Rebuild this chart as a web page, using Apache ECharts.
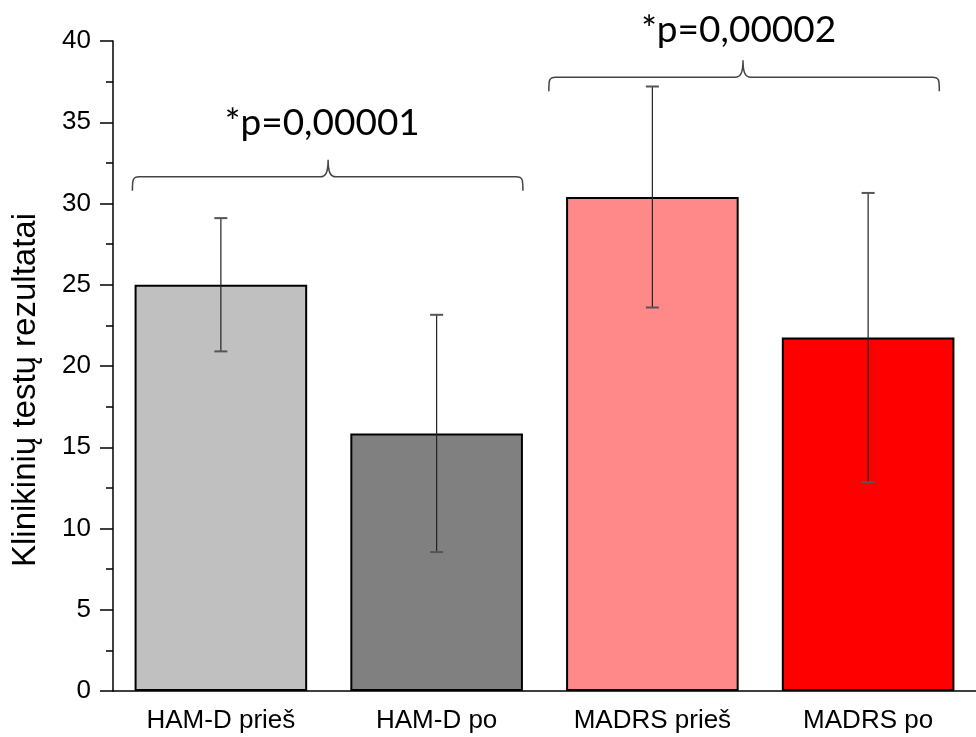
<!DOCTYPE html>
<html>
<head>
<meta charset="utf-8">
<script src="https://cdn.jsdelivr.net/npm/echarts@6/dist/echarts.min.js"></script>
<style>
  html, body { margin: 0; padding: 0; background: #fff; }
  #chart { width: 976px; height: 737px; }
</style>
</head>
<body>
<div id="chart"></div>
<script>
// Clinical test scores before and after treatment (mean ± SD)
const categories = ['HAM-D prieš', 'HAM-D po', 'MADRS prieš', 'MADRS po'];
const means = [25.0, 15.85, 30.4, 21.75];
const sds = [4.1, 7.3, 6.8, 8.9];
const barColors = ['#C0C0C0', '#808080', '#FF8888', '#FF0000'];
const yTicks = [0, 5, 10, 15, 20, 25, 30, 35, 40];

// Significance brackets (x in category units, y in score units)
const pLabels = ['*p=0,00001', '*p=0,00002'];
const braceFrom = [-0.41, 1.52];
const braceTo = [1.40, 3.33];
const braceTip = [0.497, 2.42];
const braceLevel = [31.64, 37.77];
const pLabelX = [0.47, 2.40];
const pLabelY = [34.96, 40.68];

const yTitle = 'Klinikinių testų rezultatai';

const chart = echarts.init(document.getElementById('chart'));

const barData = means.map((m, i) => ({ value: m, itemStyle: { color: barColors[i] } }));
const errData = means.map((m, i) => [i, m - sds[i], m + sds[i]]);
const braceData = pLabels.map((t, i) => [braceFrom[i], braceTo[i], braceTip[i], braceLevel[i], pLabelX[i], pLabelY[i]]);

const axisFont = { fontFamily: 'Liberation Sans', fontSize: 26, color: '#000' };

chart.setOption({
  animation: false,
  backgroundColor: '#fff',
  grid: { left: 113, right: -9, top: 41, bottom: 46, containLabel: false },
  xAxis: [
    {
      type: 'category', data: categories, position: 'bottom',
      axisLine: { onZero: false, lineStyle: { color: '#000', width: 1.5 } },
      axisTick: { alignWithLabel: true, length: 13, lineStyle: { color: '#000', width: 1.5 } },
      axisLabel: Object.assign({ margin: 17 }, axisFont)
    },
    {
      type: 'category', data: categories, position: 'bottom',
      axisLine: { show: false, onZero: false },
      axisTick: { length: 7, lineStyle: { color: '#000', width: 1.5 } },
      axisLabel: { show: false }
    },
    { type: 'value', min: -0.5, max: 3.5, show: false }
  ],
  yAxis: {
    type: 'value', min: yTicks[0], max: yTicks[yTicks.length - 1], interval: yTicks[1] - yTicks[0],
    position: 'left',
    axisLine: { show: true, onZero: false, lineStyle: { color: '#000', width: 1.5 } },
    axisTick: { show: true, length: 13, lineStyle: { color: '#000', width: 1.5 } },
    minorTick: { show: true, splitNumber: 2, length: 7, lineStyle: { color: '#000', width: 1.5 } },
    splitLine: { show: false },
    axisLabel: Object.assign({ margin: 22 }, axisFont)
  },
  graphic: [{
    type: 'text', x: 26, y: 390, rotation: Math.PI / 2,
    style: {
      text: yTitle, font: '33px "Liberation Sans"', fill: '#000',
      textAlign: 'center', textVerticalAlign: 'middle'
    }
  }],
  series: [
    {
      type: 'bar', xAxisIndex: 0, data: barData, barWidth: '80%',
      itemStyle: { borderColor: '#000', borderWidth: 2 }
    },
    {
      type: 'custom', xAxisIndex: 0, data: errData, z: 5,
      renderItem: function (params, api) {
        const lo = api.coord([api.value(0), api.value(1)]);
        const hi = api.coord([api.value(0), api.value(2)]);
        const cap = 6.5;
        return {
          type: 'group',
          children: [
            { type: 'line', shape: { x1: lo[0], y1: lo[1], x2: hi[0], y2: hi[1] },
              style: { stroke: '#222', lineWidth: 1.2 } },
            { type: 'line', shape: { x1: hi[0] - cap, y1: hi[1], x2: hi[0] + cap, y2: hi[1] },
              style: { stroke: '#555', lineWidth: 2 } },
            { type: 'line', shape: { x1: lo[0] - cap, y1: lo[1], x2: lo[0] + cap, y2: lo[1] },
              style: { stroke: '#555', lineWidth: 2 } }
          ]
        };
      }
    },
    {
      type: 'custom', xAxisIndex: 2, data: braceData, z: 5, clip: false,
      renderItem: function (params, api) {
        const L = api.coord([api.value(0), api.value(3)]);
        const R = api.coord([api.value(1), api.value(3)]);
        const T = api.coord([api.value(2), api.value(3)]);
        const P = api.coord([api.value(4), api.value(5)]);
        const y = L[1], yH = y + 14, yT = y - 17;
        const path =
          'M' + L[0] + ',' + yH +
          ' C' + L[0] + ',' + (y + 3) + ' ' + L[0] + ',' + y + ' ' + (L[0] + 7) + ',' + y +
          ' L' + (T[0] - 8) + ',' + y +
          ' C' + (T[0] - 2) + ',' + y + ' ' + T[0] + ',' + (y - 5) + ' ' + T[0] + ',' + yT +
          ' C' + T[0] + ',' + (y - 5) + ' ' + (T[0] + 2) + ',' + y + ' ' + (T[0] + 8) + ',' + y +
          ' L' + (R[0] - 7) + ',' + y +
          ' C' + R[0] + ',' + y + ' ' + R[0] + ',' + (y + 3) + ' ' + R[0] + ',' + yH;
        return {
          type: 'group',
          children: [
            { type: 'path', shape: { pathData: path },
              style: { stroke: '#444', lineWidth: 1.5, fill: null } },
            { type: 'text', x: P[0], y: P[1],
              style: { text: pLabels[params.dataIndex], font: '37px Lato', fill: '#000',
                       textAlign: 'center', textVerticalAlign: 'middle' } }
          ]
        };
      }
    }
  ]
});
</script>
</body>
</html>
